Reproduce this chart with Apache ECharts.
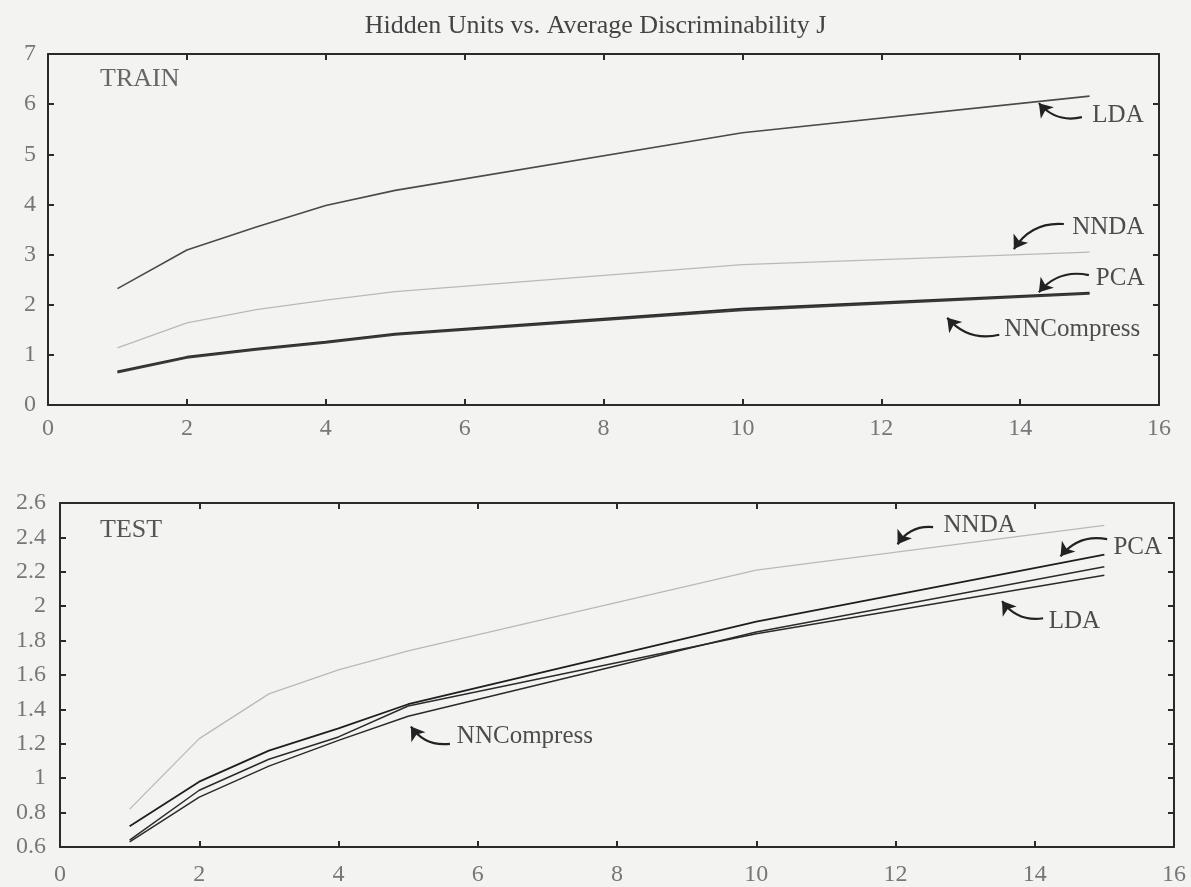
<!DOCTYPE html>
<html>
<head>
<meta charset="utf-8">
<script src="https://cdn.jsdelivr.net/npm/echarts@6/dist/echarts.min.js"></script>
<style>
html,body{margin:0;padding:0;background:#f3f4f2;}
#c{width:1191px;height:887px;}
</style>
</head>
<body>
<div id="c"></div>
<script>
// ---- data ----
const hiddenUnits = [1, 2, 3, 4, 5, 10, 15];

const trainLDA        = [2.32, 3.09, 3.55, 3.98, 4.28, 5.43, 6.16];
const trainNNDA       = [1.14, 1.64, 1.90, 2.09, 2.26, 2.80, 3.05];
const trainPCA        = [0.67, 0.96, 1.12, 1.26, 1.42, 1.92, 2.24];
const trainNNCompress = [0.65, 0.94, 1.10, 1.24, 1.40, 1.89, 2.22];

const testNNDA       = [0.82, 1.23, 1.49, 1.63, 1.74, 2.21, 2.47];
const testPCA        = [0.72, 0.98, 1.16, 1.29, 1.43, 1.91, 2.30];
const testLDA        = [0.64, 0.93, 1.11, 1.24, 1.42, 1.84, 2.18];
const testNNCompress = [0.63, 0.89, 1.07, 1.22, 1.36, 1.85, 2.23];

const xTicks = [0, 2, 4, 6, 8, 10, 12, 14, 16];
const trainYTicks = [0, 1, 2, 3, 4, 5, 6, 7];
const testYTicks = [0.6, 0.8, 1, 1.2, 1.4, 1.6, 1.8, 2, 2.2, 2.4, 2.6];

// annotations: [label, textX, textY, tailX, tailY, headX, headY]
const trainNotes = [
  ['LDA',        15.04, 5.78, 14.89, 5.74, 14.27, 6.02],
  ['NNDA',       14.75, 3.55, 14.63, 3.61, 13.91, 3.11],
  ['PCA',        15.09, 2.53, 14.99, 2.59, 14.27, 2.25],
  ['NNCompress', 13.77, 1.50, 13.70, 1.40, 12.95, 1.74]
];
const testNotes = [
  ['NNDA',       12.69, 2.47, 12.54, 2.46, 12.03, 2.36],
  ['PCA',        15.13, 2.34, 15.04, 2.39, 14.37, 2.29],
  ['LDA',        14.20, 1.91, 14.12, 1.93, 13.53, 2.03],
  ['NNCompress',  5.70, 1.24,  5.60, 1.20,  5.04, 1.30]
];

const titleText = 'Hidden Units vs. Average Discriminability J';
// ---------------

const FONT = 'Liberation Serif';
const zip = (xs, ys) => xs.map((x, i) => [x, ys[i]]);

function axisPair(gridIndex, min, max, interval, isX, labelMargin) {
  const base = {
    type: 'value', gridIndex, min, max, interval,
    splitLine: {show: false},
    axisLine: {show: true, onZero: false, lineStyle: {color: '#2a2a2a', width: 2}},
    axisTick: {show: true, inside: true, length: 6, lineStyle: {color: '#2a2a2a', width: 2}},
  };
  const main = Object.assign({}, base, {
    position: isX ? 'bottom' : 'left',
    axisLabel: {show: true, color: '#777', fontFamily: FONT, fontSize: 24, margin: labelMargin}
  });
  const other = Object.assign({}, base, {
    position: isX ? 'top' : 'right',
    axisLabel: {show: false}
  });
  return [main, other];
}

const xAxes = [].concat(axisPair(0, 0, 16, 2, true, 12), axisPair(1, 0, 16, 2, true, 16));
const yAxes = [].concat(axisPair(0, 0, 7, 1, false, 12), axisPair(1, 0.6, 2.6, 0.2, false, 14));
yAxes[2].axisLabel.formatter = v => String(Math.round(v * 10) / 10);

function lineSeries(data, xi, yi, color, width, z) {
  return {
    type: 'line', xAxisIndex: xi, yAxisIndex: yi,
    data: zip(hiddenUnits, data), showSymbol: false, symbol: 'none',
    lineStyle: {color, width}, z: z || 2, animation: false
  };
}

function noteSeries(notes, xi, yi) {
  return [{
    type: 'scatter', xAxisIndex: xi, yAxisIndex: yi, symbolSize: 0,
    animation: false, z: 5, silent: true,
    data: notes.map(n => ({name: n[0], value: [n[1], n[2]]})),
    label: {show: true, position: 'right', distance: 0, formatter: p => p.name,
            color: '#222', fontFamily: FONT, fontSize: 25}
  }, {
    type: 'lines', coordinateSystem: 'cartesian2d', xAxisIndex: xi, yAxisIndex: yi,
    animation: false, z: 5, silent: true,
    symbol: ['none', 'arrow'], symbolSize: 13,
    lineStyle: {color: '#222', width: 2.2, opacity: 1, curveness: 0.3},
    data: notes.map(n => ({
      coords: [[n[3], n[4]], [n[5], n[6]]],
      lineStyle: {curveness: n[6] > n[4] ? 0.3 : -0.3}
    }))
  }];
}

const option = {
  backgroundColor: '#f3f4f2',
  animation: false,
  title: [
    {text: titleText, left: 'center', top: 8,
     textStyle: {fontFamily: FONT, fontWeight: 'normal', fontSize: 26, color: '#444'}},
    {text: 'TRAIN', left: 95, top: 61,
     textStyle: {fontFamily: FONT, fontWeight: 'normal', fontSize: 26, color: '#666'}},
    {text: 'TEST', left: 95, top: 512,
     textStyle: {fontFamily: FONT, fontWeight: 'normal', fontSize: 26, color: '#555'}}
  ],
  grid: [
    {left: 48, right: 32, top: 54, height: 351},
    {left: 60, right: 17, top: 503, height: 345}
  ],
  xAxis: xAxes,
  yAxis: yAxes,
  series: [
    lineSeries(trainLDA, 0, 0, '#4a4a4a', 1.6),
    lineSeries(trainNNDA, 0, 0, '#b9b9b9', 1.3),
    lineSeries(trainPCA, 0, 0, '#2a2a2a', 2),
    lineSeries(trainNNCompress, 0, 0, '#3a3a3a', 2),
    lineSeries(testNNDA, 2, 2, '#b9b9b9', 1.3),
    lineSeries(testPCA, 2, 2, '#1e1e1e', 1.8),
    lineSeries(testLDA, 2, 2, '#2a2a2a', 1.5),
    lineSeries(testNNCompress, 2, 2, '#2a2a2a', 1.5)
  ].concat(noteSeries(trainNotes, 0, 0), noteSeries(testNotes, 2, 2))
};

const chart = echarts.init(document.getElementById('c'), null, {renderer: 'canvas'});
chart.setOption(option);
</script>
</body>
</html>
